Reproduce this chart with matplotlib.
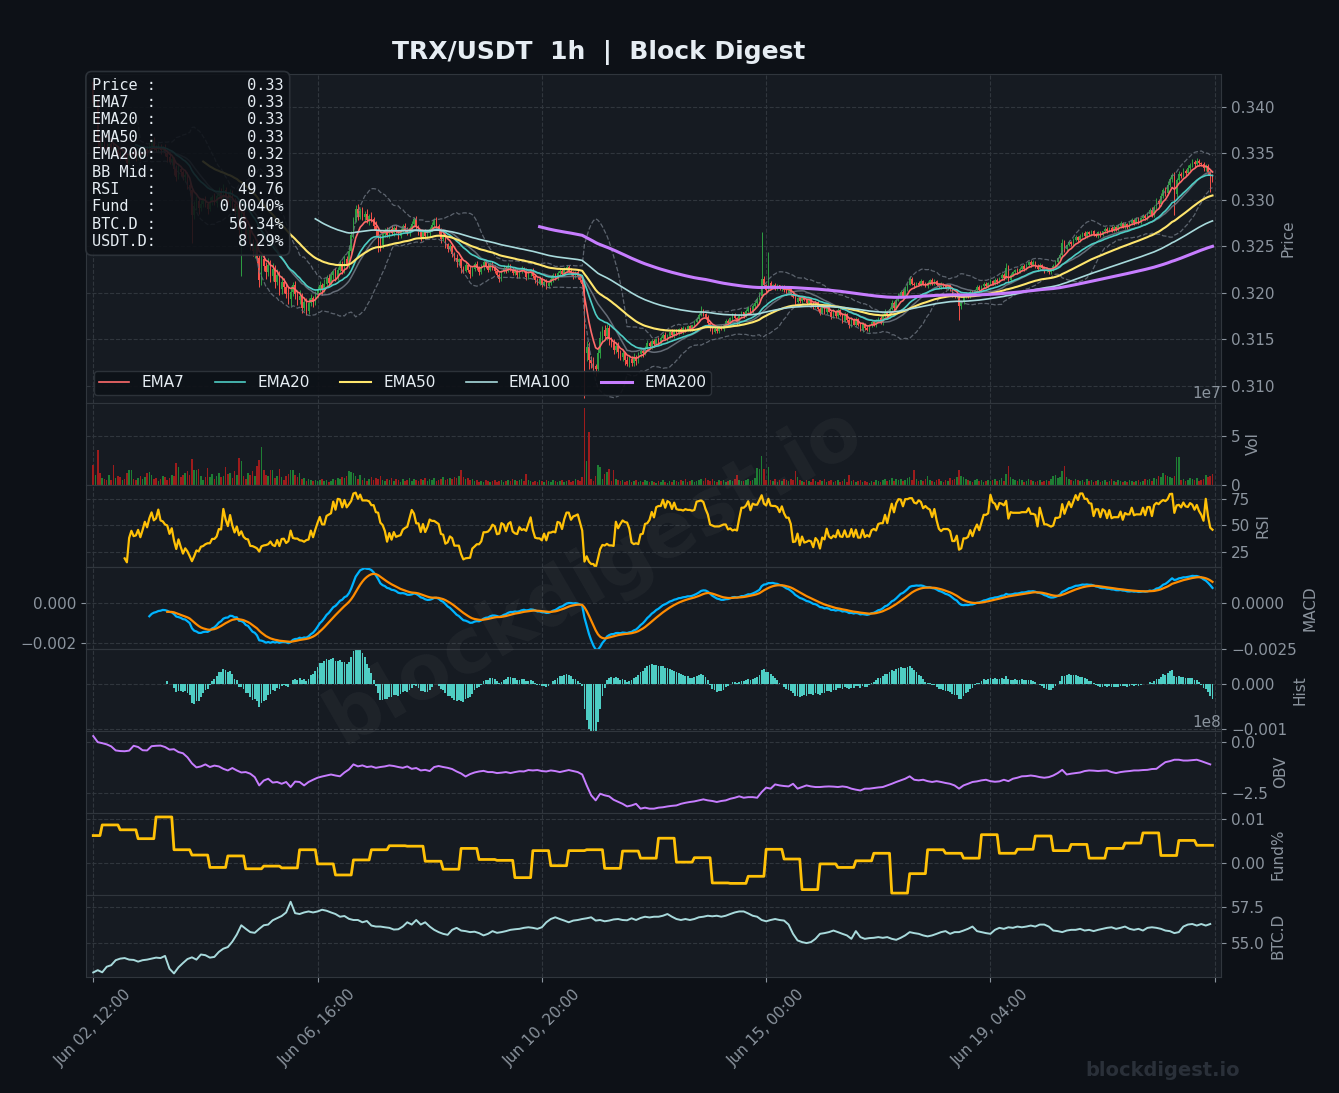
import numpy as np
import pandas as pd
import matplotlib
matplotlib.use("Agg")
import matplotlib.pyplot as plt
from matplotlib.ticker import FixedLocator

# ---------------------------------------------------------------- data
start_time = "2025-06-02 12:00"
first_open_bp = 3426          # open of the first candle (1e-4 USDT)

# hourly closes in units of 1e-4 USDT
close_bp = [
    3404, 3407, 3362, 3358, 3361, 3357, 3355, 3360, 3356, 3351,
    3354, 3350, 3347, 3351, 3346, 3340, 3348, 3352, 3349, 3346,
    3350, 3347, 3351, 3355, 3352, 3358, 3362, 3357, 3354, 3357,
    3353, 3356, 3350, 3346, 3341, 3344, 3333, 3325, 3333, 3330,
    3324, 3327, 3316, 3311, 3284, 3293, 3299, 3291, 3296, 3300,
    3295, 3290, 3298, 3303, 3297, 3304, 3309, 3303, 3311, 3303,
    3298, 3308, 3296, 3287, 3293, 3268, 3284, 3275, 3262, 3268,
    3252, 3245, 3251, 3237, 3214, 3236, 3229, 3222, 3230, 3218,
    3226, 3212, 3219, 3204, 3212, 3206, 3199, 3193, 3201, 3208,
    3199, 3192, 3197, 3184, 3190, 3181, 3189, 3194, 3190, 3198,
    3204, 3209, 3203, 3210, 3216, 3211, 3219, 3223, 3216, 3225,
    3231, 3224, 3236, 3230, 3245, 3262, 3278, 3290, 3282, 3288,
    3281, 3285, 3278, 3283, 3279, 3272, 3266, 3259, 3251, 3263,
    3268, 3262, 3269, 3264, 3270, 3266, 3261, 3267, 3272, 3268,
    3264, 3270, 3274, 3279, 3271, 3265, 3260, 3266, 3261, 3264,
    3269, 3273, 3278, 3272, 3266, 3258, 3261, 3252, 3247, 3250,
    3242, 3238, 3233, 3236, 3227, 3224, 3230, 3225, 3220, 3226,
    3231, 3227, 3222, 3228, 3233, 3229, 3225, 3231, 3228, 3223,
    3219, 3215, 3223, 3227, 3224, 3229, 3226, 3221, 3224, 3219,
    3223, 3226, 3224, 3217, 3221, 3224, 3218, 3214, 3210, 3215,
    3209, 3212, 3207, 3211, 3215, 3219, 3216, 3221, 3224, 3220,
    3225, 3228, 3224, 3221, 3218, 3222, 3218, 3214, 3210, 3135,
    3142, 3128, 3125, 3121, 3118, 3135, 3152, 3160, 3154, 3162,
    3150, 3146, 3139, 3143, 3136, 3131, 3135, 3128, 3124, 3129,
    3125, 3131, 3127, 3134, 3138, 3135, 3141, 3146, 3143, 3148,
    3145, 3150, 3147, 3152, 3155, 3151, 3154, 3158, 3155, 3159,
    3157, 3161, 3158, 3162, 3160, 3164, 3161, 3165, 3169, 3172,
    3176, 3181, 3177, 3174, 3168, 3162, 3158, 3161, 3159, 3163,
    3161, 3166, 3170, 3168, 3173, 3176, 3173, 3169, 3175, 3179,
    3175, 3181, 3184, 3179, 3186, 3189, 3193, 3197, 3215, 3208,
    3203, 3211, 3206, 3209, 3205, 3208, 3204, 3207, 3203, 3200,
    3204, 3199, 3196, 3190, 3194, 3191, 3195, 3192, 3189, 3193,
    3188, 3185, 3190, 3183, 3178, 3185, 3179, 3186, 3180, 3174,
    3181, 3175, 3182, 3176, 3170, 3177, 3171, 3165, 3172, 3166,
    3172, 3166, 3160, 3167, 3162, 3160, 3165, 3169, 3165, 3170,
    3173, 3168, 3175, 3180, 3175, 3183, 3189, 3184, 3192, 3197,
    3201, 3196, 3204, 3209, 3215, 3210, 3208, 3211, 3209, 3213,
    3210, 3207, 3211, 3214, 3210, 3213, 3209, 3206, 3210, 3207,
    3205, 3208, 3204, 3199, 3196, 3198, 3186, 3190, 3196, 3199,
    3197, 3201, 3199, 3203, 3206, 3203, 3207, 3210, 3207, 3211,
    3213, 3210, 3214, 3212, 3216, 3219, 3216, 3227, 3214, 3219,
    3222, 3225, 3222, 3226, 3229, 3226, 3230, 3233, 3230, 3233,
    3229, 3226, 3230, 3227, 3223, 3226, 3222, 3225, 3229, 3233,
    3237, 3241, 3254, 3247, 3251, 3255, 3252, 3257, 3260, 3257,
    3261, 3264, 3261, 3265, 3263, 3266, 3263, 3261, 3265, 3262,
    3266, 3269, 3266, 3270, 3267, 3271, 3268, 3272, 3275, 3271,
    3274, 3271, 3275, 3278, 3275, 3279, 3276, 3280, 3283, 3280,
    3285, 3289, 3284, 3292, 3299, 3295, 3304, 3311, 3307, 3316,
    3322, 3327, 3306, 3321, 3328, 3326, 3331, 3329, 3334, 3337,
    3341, 3338, 3342, 3339, 3338, 3334, 3336, 3330, 3326, 3322,
]

# upper / lower wick lengths beyond the candle body (1e-4 USDT)
wick_up_bp = [
    2, 4, 3, 5, 3, 2, 4, 3, 2, 5,   3, 4, 2, 5, 3, 2, 6, 4, 3, 2,
    4, 3, 5, 2, 3, 4, 3, 5, 2, 4,   3, 2, 4, 3, 5, 3, 2, 4, 6, 3,
    2, 4, 3, 5, 4, 6, 5, 3, 4, 2,   4, 3, 5, 2, 4, 3, 5, 4, 6, 3,
    5, 4, 3, 6, 4, 5, 7, 4, 6, 3,   5, 6, 4, 7, 5, 8, 6, 4, 7, 5,
    6, 4, 7, 5, 6, 4, 5, 7, 6, 4,   5, 4, 6, 3, 5, 4, 6, 5, 3, 4,
    3, 4, 2, 5, 3, 4, 3, 2, 4, 3,   4, 3, 5, 4, 6, 5, 4, 4, 5, 3,
    4, 3, 5, 2, 4, 3, 5, 4, 3, 4,   2, 3, 2, 4, 2, 3, 2, 3, 2, 3,
    3, 2, 3, 2, 4, 2, 3, 2, 3, 2,   2, 3, 2, 3, 2, 4, 2, 3, 2, 3,
    3, 2, 4, 2, 3, 2, 3, 2, 4, 2,   2, 3, 2, 3, 2, 2, 3, 2, 3, 2,
    3, 2, 2, 3, 2, 3, 2, 2, 3, 2,   2, 3, 2, 3, 2, 2, 3, 2, 2, 3,
    2, 2, 3, 2, 3, 2, 2, 3, 2, 2,   3, 2, 2, 3, 2, 2, 3, 2, 2, 4,
    6, 5, 4, 6, 3, 5, 7, 4, 6, 5,   4, 3, 5, 3, 4, 3, 5, 2, 4, 3,
    3, 4, 2, 3, 2, 3, 2, 3, 2, 3,   2, 2, 3, 2, 2, 3, 2, 2, 3, 2,
    2, 1, 2, 2, 1, 2, 2, 1, 2, 2,   2, 5, 2, 1, 2, 2, 1, 2, 2, 1,
    2, 1, 2, 2, 1, 2, 2, 1, 2, 2,   1, 2, 2, 1, 2, 2, 3, 4, 50, 3,
    2, 33, 2, 1, 2, 2, 1, 2, 2, 1,  2, 1, 2, 3, 2, 1, 2, 2, 1, 2,
    1, 2, 2, 1, 2, 1, 2, 2, 1, 2,   2, 1, 2, 1, 2, 2, 1, 2, 2, 1,
    2, 1, 2, 2, 1, 2, 2, 1, 2, 2,   1, 2, 2, 3, 1, 2, 3, 2, 2, 3,
    2, 2, 3, 2, 3, 2, 2, 1, 2, 2,   1, 2, 2, 1, 2, 2, 1, 2, 2, 1,
    2, 1, 2, 2, 1, 2, 2, 2, 3, 2,   1, 2, 2, 1, 2, 2, 1, 2, 2, 1,
    2, 1, 2, 2, 1, 2, 2, 5, 3, 2,   2, 1, 2, 2, 1, 2, 2, 1, 2, 2,
    1, 2, 2, 1, 2, 2, 1, 2, 2, 2,   2, 2, 4, 3, 2, 2, 1, 2, 2, 1,
    2, 1, 2, 2, 1, 2, 2, 1, 2, 2,   1, 2, 2, 1, 2, 2, 1, 2, 2, 1,
    2, 1, 2, 2, 1, 2, 2, 1, 2, 2,   2, 2, 3, 2, 3, 2, 3, 2, 3, 4,
    3, 2, 3, 2, 3, 2, 3, 2, 3, 2,   3, 2, 3, 2, 2, 3, 2, 2, 3, 2,
]
wick_dn_bp = [
    3, 2, 5, 3, 4, 2, 3, 4, 2, 4,   2, 3, 4, 2, 3, 5, 2, 3, 2, 4,
    3, 4, 2, 3, 5, 2, 3, 4, 3, 2,   4, 2, 3, 5, 3, 4, 6, 5, 3, 4,
    3, 5, 4, 6, 30, 5, 4, 6, 3, 4,  3, 5, 2, 4, 3, 5, 2, 4, 3, 5,
    4, 6, 5, 4, 6, 7, 50, 5, 6, 4,  6, 5, 7, 5, 8, 6, 5, 7, 4, 6,
    5, 7, 4, 6, 5, 6, 4, 5, 7, 4,   6, 5, 4, 6, 3, 5, 4, 3, 5, 3,
    4, 3, 5, 2, 3, 4, 3, 4, 3, 2,   3, 4, 3, 2, 3, 2, 3, 2, 4, 3,
    3, 4, 3, 5, 3, 4, 5, 15, 6, 3,  3, 2, 3, 2, 3, 2, 3, 2, 2, 3,
    2, 3, 2, 3, 2, 3, 4, 2, 3, 2,   3, 2, 3, 2, 3, 4, 2, 4, 3, 2,
    3, 4, 5, 3, 6, 3, 2, 3, 4, 2,   3, 2, 3, 2, 3, 2, 3, 2, 3, 2,
    2, 3, 2, 2, 3, 2, 3, 2, 2, 3,   3, 2, 2, 3, 2, 3, 2, 3, 2, 2,
    3, 2, 3, 2, 2, 3, 2, 2, 3, 2,   2, 3, 2, 2, 3, 2, 3, 2, 3, 48,
    8, 10, 6, 5, 7, 4, 5, 6, 4, 5,  6, 4, 5, 4, 6, 3, 4, 5, 3, 4,
    4, 3, 4, 2, 3, 4, 2, 3, 2, 3,   3, 2, 2, 3, 2, 2, 3, 2, 2, 3,
    2, 2, 1, 2, 2, 1, 2, 2, 1, 2,   2, 1, 2, 2, 2, 3, 2, 1, 2, 2,
    1, 2, 2, 1, 2, 2, 1, 3, 2, 1,   2, 1, 2, 2, 1, 2, 2, 1, 2, 3,
    3, 2, 2, 1, 2, 2, 1, 2, 2, 2,   1, 2, 2, 3, 1, 2, 2, 1, 2, 1,
    2, 2, 1, 2, 2, 1, 2, 2, 1, 2,   1, 2, 2, 1, 2, 1, 2, 3, 2, 1,
    2, 2, 1, 2, 2, 1, 2, 2, 1, 2,   2, 1, 2, 1, 2, 2, 1, 2, 2, 1,
    2, 1, 2, 2, 1, 2, 3, 2, 1, 2,   2, 1, 2, 2, 1, 2, 2, 1, 2, 2,
    1, 2, 2, 3, 2, 2, 15, 3, 2, 1,  2, 2, 1, 2, 2, 1, 2, 2, 1, 2,
    2, 1, 2, 2, 1, 2, 2, 1, 3, 2,   1, 2, 2, 1, 2, 2, 1, 2, 2, 1,
    2, 2, 1, 2, 2, 1, 2, 2, 1, 2,   2, 1, 2, 3, 2, 1, 2, 2, 1, 2,
    2, 1, 2, 2, 1, 2, 2, 1, 2, 2,   1, 2, 2, 1, 2, 2, 1, 2, 2, 1,
    2, 2, 1, 2, 2, 1, 2, 2, 1, 2,   2, 1, 2, 2, 2, 3, 2, 2, 3, 2,
    2, 3, 22, 3, 2, 3, 2, 3, 2, 3,  2, 3, 2, 3, 2, 3, 3, 3, 18, 3,
]

# hourly volume in millions
volume_m = [
    20, 10, 36, 12, 7, 6, 5, 10, 5, 20,   7, 9, 8, 5, 6, 12, 15, 15, 6, 5,
    7, 9, 6, 8, 12, 13, 10, 6, 7, 4,      6, 9, 8, 5, 7, 10, 9, 22, 18, 8,
    10, 12, 14, 10, 27, 15, 15, 16, 9, 5, 8, 17, 8, 11, 6, 9, 12, 8, 9, 18,
    11, 12, 7, 14, 10, 28, 25, 9, 6, 12,  10, 14, 9, 19, 26, 39, 15, 10, 9, 15,
    15, 7, 9, 16, 8, 5, 9, 11, 15, 15,    10, 8, 12, 6, 7, 4, 6, 5, 4, 5,
    4, 5, 6, 4, 5, 3, 4, 6, 5, 7,         6, 8, 7, 9, 14, 13, 12, 9, 6, 10,
    5, 7, 4, 6, 8, 5, 7, 6, 9, 5,         4, 6, 5, 7, 4, 6, 5, 3, 6, 4,
    5, 7, 4, 6, 5, 4, 6, 5, 7, 4,         6, 5, 7, 4, 5, 6, 8, 5, 6, 7,
    6, 8, 7, 9, 15, 8, 6, 7, 5, 6,        4, 5, 3, 4, 3, 5, 4, 3, 4, 5,
    3, 4, 5, 3, 4, 5, 4, 6, 5, 4,         5, 6, 4, 11, 5, 4, 3, 4, 3, 5,
    4, 3, 5, 4, 3, 5, 4, 3, 4, 5,         3, 4, 5, 3, 4, 6, 5, 4, 8, 79,
    25, 55, 6, 4, 9, 20, 18, 6, 11, 13,   16, 4, 15, 6, 5, 4, 5, 3, 4, 5,
    3, 4, 5, 3, 4, 3, 5, 4, 3, 4,         3, 2, 4, 3, 5, 3, 2, 4, 3, 5,
    4, 3, 5, 4, 6, 3, 4, 5, 3, 4,         5, 6, 4, 7, 5, 4, 6, 4, 3, 5,
    4, 5, 3, 4, 5, 4, 6, 10, 5, 4,        4, 5, 6, 4, 5, 7, 17, 16, 30, 16,
    5, 18, 5, 4, 6, 3, 5, 4, 6, 5,        4, 6, 5, 14, 8, 5, 4, 3, 5, 4,
    3, 6, 4, 3, 5, 4, 6, 3, 4, 5,         3, 4, 5, 3, 4, 6, 3, 10, 4, 5,
    3, 4, 5, 3, 4, 3, 2, 4, 3, 5,         4, 3, 5, 6, 4, 5, 7, 4, 6, 5,
    6, 4, 5, 7, 8, 5, 15, 6, 4, 5,        4, 6, 9, 5, 4, 3, 5, 6, 4, 3,
    5, 4, 7, 5, 6, 8, 15, 9, 8, 6,        5, 4, 3, 5, 6, 4, 5, 3, 4, 5,
    4, 5, 6, 4, 5, 7, 4, 11, 19, 8,       6, 5, 4, 6, 5, 3, 4, 6, 5, 4,
    3, 4, 5, 3, 4, 5, 4, 6, 9, 10,        7, 8, 14, 19, 8, 6, 5, 4, 6, 5,
    4, 5, 3, 6, 4, 5, 3, 4, 5, 3,         4, 5, 3, 4, 6, 4, 3, 5, 4, 3,
    4, 3, 5, 4, 3, 4, 5, 3, 4, 6,         5, 6, 4, 7, 6, 9, 8, 12, 10, 9,
    8, 7, 9, 29, 29, 5, 6, 4, 5, 7,       6, 5, 7, 4, 5, 6, 10, 8, 9, 11,
]

# funding rate (%) per 8h window; first window covers the first 4 bars
funding_pct = [
    0.0062, 0.0086, 0.0075, 0.0055, 0.0104, 0.0030, 0.0018, -0.0010, 0.0016, -0.0013,
    -0.0007, -0.0011, 0.0030, -0.0002, -0.0027, 0.0007, 0.0030, 0.0039, 0.0038, 0.0004,
    -0.0014, 0.0033, 0.0008, 0.0006, -0.0033, 0.0028, -0.0006, 0.0028, 0.0030, -0.0012,
    0.0027, 0.0011, 0.0056, 0.0002, 0.0012, -0.0045, -0.0046, -0.0030, 0.0031, 0.0009,
    -0.0060, -0.0002, -0.0010, 0.0005, 0.0022, -0.0068, -0.0024, 0.0030, 0.0022, 0.0011,
    0.0064, 0.0022, 0.0031, 0.0061, 0.0028, 0.0042, 0.0011, 0.0033, 0.0045, 0.0068,
    0.0017, 0.0051, 0.0040,
]

# on-balance volume (1e8) sampled every 2 bars
obv_e8 = [
    0.30, 0.00, -0.05, -0.11, -0.21, -0.41, -0.44, -0.45, -0.42, -0.18,
    -0.24, -0.40, -0.41, -0.20, -0.18, -0.17, -0.24, -0.37, -0.35, -0.49,
    -0.55, -0.75, -1.05, -1.25, -1.20, -1.10, -1.23, -1.16, -1.20, -1.32,
    -1.40, -1.28, -1.40, -1.50, -1.48, -1.56, -1.73, -2.14, -1.90, -1.81,
    -2.00, -1.97, -2.06, -1.97, -2.22, -1.95, -1.97, -2.14, -1.97, -1.86,
    -1.76, -1.70, -1.65, -1.60, -1.65, -1.69, -1.50, -1.35, -1.10, -1.20,
    -1.15, -1.23, -1.20, -1.27, -1.23, -1.20, -1.15, -1.18, -1.23, -1.27,
    -1.20, -1.32, -1.28, -1.40, -1.37, -1.43, -1.23, -1.18, -1.23, -1.27,
    -1.33, -1.45, -1.55, -1.70, -1.58, -1.50, -1.45, -1.42, -1.48, -1.48,
    -1.53, -1.51, -1.48, -1.53, -1.48, -1.44, -1.45, -1.38, -1.40, -1.38,
    -1.43, -1.45, -1.40, -1.43, -1.48, -1.43, -1.38, -1.43, -1.48, -1.60,
    -2.14, -2.63, -2.88, -2.55, -2.63, -2.68, -2.85, -2.95, -3.05, -3.18,
    -3.13, -3.05, -3.29, -3.24, -3.29, -3.29, -3.24, -3.22, -3.18, -3.15,
    -3.13, -3.05, -3.00, -2.96, -2.93, -2.88, -2.83, -2.88, -2.91, -2.96,
    -2.91, -2.88, -2.80, -2.75, -2.68, -2.75, -2.72, -2.72, -2.75, -2.47,
    -2.25, -2.30, -2.09, -2.14, -2.17, -2.19, -2.06, -2.30, -2.22, -2.14,
    -2.19, -2.22, -2.22, -2.20, -2.19, -2.20, -2.22, -2.19, -2.22, -2.30,
    -2.35, -2.39, -2.30, -2.30, -2.27, -2.24, -2.22, -2.14, -2.06, -1.97,
    -1.89, -1.81, -1.69, -1.86, -1.89, -1.86, -1.93, -1.97, -1.93, -1.97,
    -2.02, -2.06, -2.14, -2.30, -2.14, -2.06, -1.97, -1.94, -1.89, -1.86,
    -1.93, -1.96, -1.94, -1.86, -1.93, -1.81, -1.76, -1.69, -1.68, -1.65,
    -1.68, -1.73, -1.76, -1.73, -1.65, -1.53, -1.37, -1.60, -1.56, -1.53,
    -1.50, -1.43, -1.40, -1.41, -1.43, -1.41, -1.40, -1.48, -1.53, -1.48,
    -1.45, -1.43, -1.40, -1.40, -1.38, -1.37, -1.33, -1.32, -1.15, -0.99,
    -0.94, -0.87, -0.87, -0.91, -0.91, -0.89, -0.87, -0.94, -1.02, -1.10,
]

# BTC dominance (%) sampled every 2 bars
btcd_pct = [
    52.94, 53.10, 52.95, 53.34, 53.45, 53.80, 53.91, 53.95, 53.84, 53.82,
    53.70, 53.80, 53.84, 53.91, 53.98, 53.95, 54.10, 53.20, 52.87, 53.30,
    53.60, 53.88, 54.00, 53.84, 54.20, 54.15, 53.98, 54.03, 54.38, 54.61,
    54.72, 55.10, 55.60, 56.25, 56.00, 55.77, 55.72, 56.00, 56.25, 56.30,
    56.60, 56.75, 56.90, 57.15, 57.90, 57.10, 57.04, 57.15, 57.22, 57.15,
    57.22, 57.34, 57.27, 57.15, 57.04, 56.85, 56.90, 56.70, 56.62, 56.62,
    56.46, 56.55, 56.23, 56.16, 56.16, 56.11, 56.07, 55.95, 55.97, 56.16,
    56.46, 56.30, 56.62, 56.30, 56.46, 56.16, 55.93, 55.77, 55.65, 55.58,
    55.93, 56.07, 55.88, 55.84, 55.77, 55.80, 55.70, 55.54, 55.65, 55.84,
    55.72, 55.77, 55.84, 55.93, 55.97, 56.00, 56.07, 56.11, 56.07, 56.00,
    56.11, 56.46, 56.69, 56.81, 56.69, 56.58, 56.46, 56.58, 56.62, 56.69,
    56.74, 56.81, 56.58, 56.62, 56.53, 56.58, 56.66, 56.69, 56.62, 56.60,
    56.74, 56.62, 56.76, 56.85, 56.80, 56.85, 56.85, 56.92, 57.04, 56.85,
    56.69, 56.62, 56.69, 56.62, 56.69, 56.81, 56.85, 56.92, 56.88, 56.92,
    56.85, 56.92, 57.04, 57.15, 57.22, 57.22, 57.08, 56.92, 56.85, 56.62,
    56.53, 56.62, 56.69, 56.62, 56.58, 56.30, 55.65, 55.19, 55.07, 55.00,
    55.07, 55.30, 55.65, 55.70, 55.77, 55.88, 55.77, 55.65, 55.54, 55.30,
    55.84, 55.42, 55.30, 55.35, 55.37, 55.42, 55.37, 55.42, 55.30, 55.23,
    55.37, 55.54, 55.77, 55.70, 55.65, 55.54, 55.47, 55.54, 55.65, 55.77,
    55.84, 55.65, 55.77, 55.77, 55.88, 56.00, 56.16, 55.84, 55.77, 55.70,
    55.65, 55.93, 56.07, 56.00, 56.11, 56.07, 56.16, 56.11, 56.16, 56.23,
    56.16, 56.30, 56.30, 56.16, 55.88, 55.84, 55.77, 55.88, 55.93, 55.93,
    56.00, 55.88, 55.93, 55.84, 55.93, 56.00, 56.07, 56.11, 56.00, 56.07,
    56.16, 56.00, 55.93, 56.00, 55.88, 56.07, 56.11, 56.07, 56.00, 55.88,
    55.84, 55.70, 55.77, 56.16, 56.30, 56.34, 56.23, 56.34, 56.23, 56.34,
]

info_labels = ["Price :", "EMA7  :", "EMA20 :", "EMA50 :", "EMA200:",
               "BB Mid:", "RSI   :", "Fund  :", "BTC.D :", "USDT.D:"]
info_values = ["0.33", "0.33", "0.33", "0.33", "0.32",
               "0.33", "49.76", "0.0040%", "56.34%", "8.29%"]

ema_periods = [7, 20, 50, 100, 200]
title_text = "TRX/USDT  1h  |  Block Digest"
watermark = "blockdigest.io"

n = len(close_bp)
assert len(wick_up_bp) == n and len(wick_dn_bp) == n and len(volume_m) == n
assert len(obv_e8) == n // 2 and len(btcd_pct) == n // 2

# ---------------------------------------------------------------- derived
idx = np.arange(n)
close = np.array(close_bp) / 1e4
opn = np.r_[first_open_bp / 1e4, close[:-1]]
high = np.maximum(opn, close) + np.array(wick_up_bp) / 1e4
low = np.minimum(opn, close) - np.array(wick_dn_bp) / 1e4
vol = np.array(volume_m) * 1e6
up = close >= opn

s = pd.Series(close)
emas = {p: s.ewm(span=p, adjust=False, min_periods=p).mean() for p in ema_periods}
bb_mid = s.rolling(20).mean()
bb_std = s.rolling(20).std()
bb_up = bb_mid + 2 * bb_std
bb_lo = bb_mid - 2 * bb_std

delta = s.diff()
gain = delta.clip(lower=0).rolling(14).mean()
loss = (-delta.clip(upper=0)).rolling(14).mean()
rsi = 100 - 100 / (1 + gain / loss)

ema12 = s.ewm(span=12, adjust=False, min_periods=12).mean()
ema26 = s.ewm(span=26, adjust=False, min_periods=26).mean()
macd = ema12 - ema26
signal = macd.ewm(span=9, adjust=False, min_periods=9).mean()
hist = macd - signal

fund = np.array(funding_pct)[(idx + 4) // 8]
x2 = np.arange(0, n, 2)
obv = np.array(obv_e8) * 1e8
btcd = np.array(btcd_pct)

# ---------------------------------------------------------------- style
BG = "#0d1117"
AX_BG = "#161b22"
GRID = "#30363d"
SPINE = "#30363d"
TXT = "#8b949e"
WHITE = "#e6edf3"
UP = "#2ea043"
DOWN = "#f85149"
VUP = "#1e7e34"
VDN = "#9e1c1c"
ema_colors = {7: "#ff6b6b", 20: "#4ecdc4", 50: "#ffe66d", 100: "#a8dadc", 200: "#c77dff"}
ema_widths = {7: 1.2, 20: 1.2, 50: 1.5, 100: 1.2, 200: 2.2}

plt.rcParams["font.family"] = ["DejaVu Sans"]

fig = plt.figure(figsize=(13.39, 10.93), dpi=100, facecolor=BG)
gs = fig.add_gridspec(8, 1, height_ratios=[4, 1, 1, 1, 1, 1, 1, 1],
                      left=0.06445, right=0.91205, top=0.93202, bottom=0.10586,
                      hspace=0)
axes = [fig.add_subplot(gs[0])]
for k in range(1, 8):
    axes.append(fig.add_subplot(gs[k], sharex=axes[0]))
ax_p, ax_v, ax_r, ax_m, ax_h, ax_o, ax_f, ax_b = axes


def style(ax, right=True):
    ax.set_facecolor(AX_BG)
    for sp in ax.spines.values():
        sp.set_color(SPINE)
    if right:
        ax.yaxis.tick_right()
        ax.yaxis.set_label_position("right")
    ax.tick_params(colors=TXT, labelsize=11, which="both")
    ax.grid(True, linestyle="--", color=GRID, linewidth=0.8)
    ax.set_axisbelow(True)
    ax.yaxis.get_offset_text().set_color(TXT)
    ax.yaxis.get_offset_text().set_fontsize(11)


for ax in axes:
    style(ax, right=(ax is not ax_m))

# ---- price panel
ax_p.vlines(idx, low, high, colors=np.where(up, UP, DOWN), linewidth=0.7, zorder=2)
body_h = np.maximum(np.abs(close - opn), 0.00004)
ax_p.bar(idx, body_h, bottom=np.minimum(opn, close), width=0.7,
         color=np.where(up, UP, DOWN), linewidth=0, zorder=2)
ax_p.plot(idx, bb_up, color="#6e7681", lw=0.9, ls="--", alpha=0.8, zorder=3)
ax_p.plot(idx, bb_lo, color="#6e7681", lw=0.9, ls="--", alpha=0.8, zorder=3)
ax_p.plot(idx, bb_mid, color="#6e7681", lw=1.1, alpha=0.9, zorder=3)
for p in ema_periods:
    ax_p.plot(idx, emas[p], color=ema_colors[p], lw=ema_widths[p],
              label=f"EMA{p}", zorder=4)
ax_p.set_ylim(0.30821, 0.34348)
ax_p.yaxis.set_major_locator(FixedLocator([0.310, 0.315, 0.320, 0.325, 0.330, 0.335, 0.340]))
ax_p.set_ylabel("Price", color=TXT, fontsize=11)
leg = ax_p.legend(loc="lower left", ncol=5, fontsize=11, facecolor=BG,
                  edgecolor=SPINE, framealpha=0.9, labelcolor=WHITE,
                  borderpad=0.3)
leg.set_zorder(10)

info_lines = [f"{lab}{val:>14}" for lab, val in zip(info_labels, info_values)]
ax_p.text(0.005, 0.99, "\n".join(info_lines), transform=ax_p.transAxes,
          ha="left", va="top", family="DejaVu Sans Mono", fontsize=11,
          color=WHITE, zorder=20,
          bbox=dict(boxstyle="round,pad=0.4", facecolor=BG, edgecolor=SPINE,
                    alpha=0.88, linewidth=1.2))

# ---- volume
ax_v.bar(idx, vol, width=0.7, color=np.where(up, VUP, VDN), linewidth=0)
ax_v.set_ylim(0, 8.49e7)
ax_v.yaxis.set_major_locator(FixedLocator([0, 5e7]))
ax_v.set_ylabel("Vol", color=TXT, fontsize=11)

# ---- RSI
ax_r.plot(idx, rsi, color="#ffc107", lw=1.6)
ax_r.set_ylim(11.2, 88.2)
ax_r.yaxis.set_major_locator(FixedLocator([25, 50, 75]))
ax_r.set_ylabel("RSI", color=TXT, fontsize=11)

# ---- MACD (left scale ticks, lines on right scale)
ax_m.set_ylim(-0.00227, 0.00177)
ax_m.yaxis.set_major_locator(FixedLocator([-0.002, 0.0]))
ax_m2 = ax_m.twinx()
for sp in ax_m2.spines.values():
    sp.set_color(SPINE)
ax_m2.plot(idx, macd, color="#00b4ff", lw=1.6)
ax_m2.plot(idx, signal, color="#ff8c00", lw=1.6)
ax_m2.set_ylim(-0.00251, 0.00199)
ax_m2.yaxis.set_major_locator(FixedLocator([-0.0025, 0.0]))
ax_m2.tick_params(colors=TXT, labelsize=11)
ax_m2.set_ylabel("MACD", color=TXT, fontsize=11)

# ---- histogram
ax_h.bar(idx, hist, width=0.8, color="#4ecdc4", linewidth=0)
ax_h.set_ylim(-0.00105, 0.000767)
ax_h.yaxis.set_major_locator(FixedLocator([-0.001, 0.0]))
ax_h.set_ylabel("Hist", color=TXT, fontsize=11)

# ---- OBV
ax_o.plot(x2, obv, color="#c77dff", lw=1.4)
ax_o.set_ylim(-3.51e8, 0.55e8)
ax_o.yaxis.set_major_locator(FixedLocator([-2.5e8, 0.0]))
ax_o.set_ylabel("OBV", color=TXT, fontsize=11)

# ---- funding
ax_f.plot(idx, fund, color="#ffc107", lw=2.0)
ax_f.set_ylim(-0.00727, 0.01127)
ax_f.yaxis.set_major_locator(FixedLocator([0.0, 0.01]))
ax_f.set_ylabel("Fund%", color=TXT, fontsize=11)

# ---- BTC dominance
ax_b.plot(x2, btcd, color="#a8dadc", lw=1.4)
ax_b.set_ylim(52.6, 58.36)
ax_b.yaxis.set_major_locator(FixedLocator([55.0, 57.5]))
ax_b.set_ylabel("BTC.D", color=TXT, fontsize=11)

# ---- shared x axis
times = pd.date_range(start_time, periods=n, freq="h")
tick_pos = list(range(0, n + 1, 100))
tick_lab = [times[t].strftime("%b %d, %H:%M") if t < n else "" for t in tick_pos]
ax_b.set_xlim(-3.1, 502.9)
ax_b.set_xticks(tick_pos)
ax_b.set_xticklabels(tick_lab, rotation=45)
for ax in axes[:-1]:
    ax.tick_params(axis="x", labelbottom=False, length=0)

# ---- texts
fig.text(0.4474, 0.9524, title_text, ha="center", va="center",
         fontsize=18, fontweight="bold", color=WHITE)
fig.text(0.444, 0.474, watermark, ha="center", va="center", rotation=30,
         fontsize=55, fontweight="bold", color="white", alpha=0.04, zorder=30)
fig.text(1240 / 1339, 1 - 1071 / 1093, watermark, ha="right", va="center",
         fontsize=14, fontweight="bold", color="#2a3039")

fig.savefig("out.png", dpi=100, facecolor=BG)
